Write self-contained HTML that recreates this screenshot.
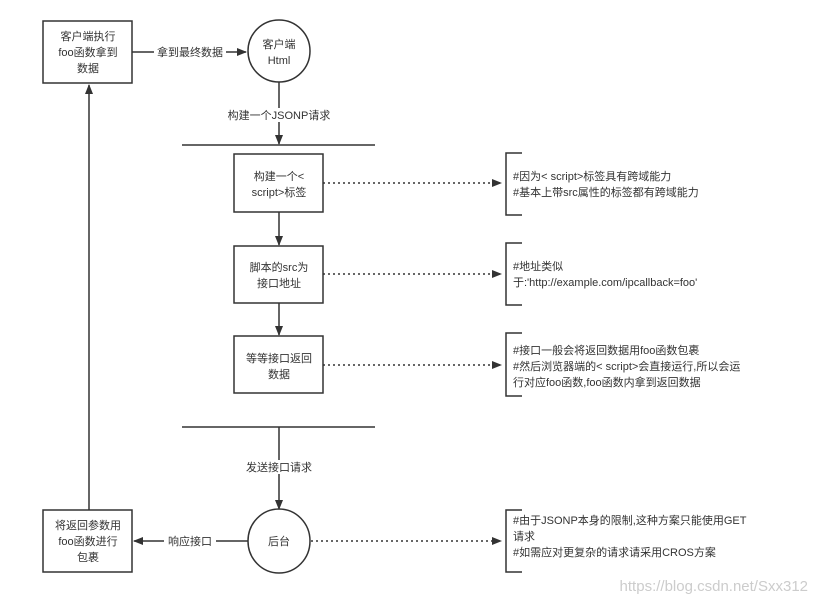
<!DOCTYPE html>
<html><head><meta charset="utf-8"><style>
html,body{margin:0;padding:0;background:#fff;}
svg{display:block;}
text{font-family:"Liberation Sans","Noto Sans CJK SC",sans-serif;font-size:11px;fill:#333;}
</style></head><body>
<svg width="816" height="605" viewBox="0 0 816 605" xmlns="http://www.w3.org/2000/svg">
<defs>
<marker id="a" markerWidth="10" markerHeight="8" refX="9" refY="4" orient="auto" markerUnits="userSpaceOnUse"><path d="M0,0 L10,4 L0,8 Z" fill="#333"/></marker>
</defs>
<g stroke="#333" stroke-width="1.5" fill="none">
<rect x="43" y="21" width="89" height="62"/>
<circle cx="279" cy="51" r="31"/>
<line x1="132" y1="52" x2="246" y2="52" marker-end="url(#a)"/>
<line x1="279" y1="82" x2="279" y2="144" marker-end="url(#a)"/>
<line x1="182" y1="145" x2="375" y2="145"/>
<rect x="234" y="154" width="89" height="58"/>
<line x1="279" y1="212" x2="279" y2="245" marker-end="url(#a)"/>
<rect x="234" y="246" width="89" height="57"/>
<line x1="279" y1="303" x2="279" y2="335" marker-end="url(#a)"/>
<rect x="234" y="336" width="89" height="57"/>
<line x1="182" y1="427" x2="375" y2="427"/>
<line x1="279" y1="427" x2="279" y2="509" marker-end="url(#a)"/>
<ellipse cx="279" cy="541" rx="31" ry="32"/>
<line x1="248" y1="541" x2="134" y2="541" marker-end="url(#a)"/>
<rect x="43" y="510" width="89" height="62"/>
<line x1="89" y1="510" x2="89" y2="85" marker-end="url(#a)"/>
<g stroke-dasharray="2,3">
<line x1="323" y1="183" x2="501" y2="183" marker-end="url(#a)"/>
<line x1="323" y1="274" x2="501" y2="274" marker-end="url(#a)"/>
<line x1="323" y1="365" x2="501" y2="365" marker-end="url(#a)"/>
<line x1="311" y1="541" x2="501" y2="541" marker-end="url(#a)"/>
</g>
<path d="M522,153 H506 V215 H522"/>
<path d="M522,243 H506 V305 H522"/>
<path d="M522,333 H506 V396 H522"/>
<path d="M522,510 H506 V572 H522"/>
</g>
<g fill="#fff"><rect x="154" y="45" width="72" height="14"/><rect x="222" y="108" width="114" height="14"/><rect x="238" y="460" width="82" height="14"/><rect x="164" y="534" width="52" height="14"/></g>
<g text-anchor="middle">
<text x="88" y="40">客户端执行</text><text x="88" y="56">foo函数拿到</text><text x="88" y="72">数据</text>
<text x="190" y="56">拿到最终数据</text>
<text x="279" y="48">客户端</text><text x="279" y="64">Html</text>
<text x="279" y="119">构建一个JSONP请求</text>
<text x="279" y="180">构建一个&lt;</text><text x="279" y="196">script&gt;标签</text>
<text x="279" y="271">脚本的src为</text><text x="279" y="287">接口地址</text>
<text x="279" y="362">等等接口返回</text><text x="279" y="378">数据</text>
<text x="279" y="471">发送接口请求</text>
<text x="279" y="545">后台</text>
<text x="190" y="545">响应接口</text>
<text x="88" y="529">将返回参数用</text><text x="88" y="545">foo函数进行</text><text x="88" y="561">包裹</text>
</g>
<text x="513" y="180">#因为&lt; script&gt;标签具有跨域能力</text>
<text x="513" y="196">#基本上带src属性的标签都有跨域能力</text>
<text x="513" y="270">#地址类似</text>
<text x="513" y="286">于:'http://example.com/ipcallback=foo'</text>
<text x="513" y="354">#接口一般会将返回数据用foo函数包裹</text>
<text x="513" y="370">#然后浏览器端的&lt; script&gt;会直接运行,所以会运</text>
<text x="513" y="386">行对应foo函数,foo函数内拿到返回数据</text>
<text x="513" y="524">#由于JSONP本身的限制,这种方案只能使用GET</text>
<text x="513" y="540">请求</text>
<text x="513" y="556">#如需应对更复杂的请求请采用CROS方案</text>
<text x="808" y="591" text-anchor="end" style="font-size:15px;fill:#ccc">https://blog.csdn.net/Sxx312</text>
</svg>
</body></html>
